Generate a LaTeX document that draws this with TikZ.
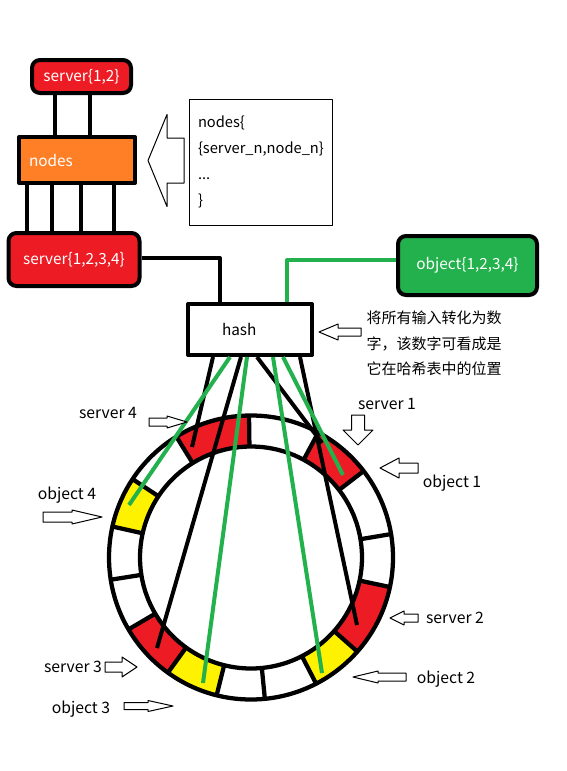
\documentclass[tikz,border=0pt]{standalone}
\usepackage{fontspec}
\setmainfont{Noto Sans CJK SC}
\usetikzlibrary{calc}
\definecolor{pred}{HTML}{ED1C24}
\definecolor{porange}{HTML}{FF7F27}
\definecolor{pgreen}{HTML}{22B14C}
\definecolor{pyellow}{HTML}{FFF200}
\newcommand\blockarrow[7]{% tip x, tip y, rotation, length, head length, shaft half, head half
  \draw[harrowline, shift={(#1,#2)}, rotate=#3] (0,0) -- (-#5,#7) -- (-#5,#6) -- (-#4,#6) -- (-#4,-#6) -- (-#5,-#6) -- (-#5,-#7) -- cycle;}
\newcommand\ringseg[3]{% colour, from angle, to angle
  \fill[#1] plot[domain=#2:#3, samples=40] (\x:142) -- plot[domain=#3:#2, samples=40] (\x:111) -- cycle;}
\begin{document}
\begin{tikzpicture}[x=0.75pt, y=-0.75pt, line join=round,
  box/.style={draw=black, line width=3pt, inner sep=0pt, font=\fontsize{11.5pt}{13pt}\selectfont},
  rbox/.style={box, rounded corners=6pt, text=white},
  wire/.style={line width=3pt, draw=black},
  gwire/.style={line width=3pt, draw=pgreen},
  ringline/.style={line width=3.2pt, draw=black},
  harrowline/.style={draw=black, line width=0.75pt, fill=white},
  lbl/.style={inner sep=0pt, font=\fontsize{11.8pt}{13pt}\selectfont}]
\useasboundingbox (0,0) rectangle (567,771);
\fill[white] (0,0) rectangle (567,771);

% ---- ring ----
\begin{scope}[shift={(251,557.5)}]
  \ringseg{pred}{-121.7}{-90.8}
  \ringseg{pred}{-61.7}{-37.5}
  \ringseg{pred}{12}{41.5}
  \ringseg{pred}{125.8}{149.6}
  \ringseg{pyellow}{-167.4}{-146.5}
  \ringseg{pyellow}{41.5}{62.7}
  \ringseg{pyellow}{104}{125.8}
  \draw[ringline] (0,0) circle[radius=106.5pt];
  \draw[ringline] (0,0) circle[radius=83.25pt];
  \foreach \a in {-90.8,-61.7,-37.5,-9.5,12,41.5,62.7,84.4,104,125.8,149.6,171,-167.4,-146.5,-121.7}
    \draw[ringline] (\a:110) -- (\a:143);
\end{scope}

% ---- boxes ----
\node[rbox, fill=pred, minimum width=74.25pt, minimum height=24.75pt] (s12) at (81.5,76.5) {server\{1,2\}};
\node[box, fill=porange, text=white, minimum width=87pt, minimum height=34.5pt, text width=72pt, inner xsep=7.5pt, align=left] (nodes) at (77,160) {nodes};
\node[rbox, fill=pred, minimum width=98.25pt, minimum height=39.75pt] (s1234) at (74,259.5) {server\{1,2,3,4\}};
\node[rbox, fill=pgreen, minimum width=104.25pt, minimum height=44.25pt] (obj) at (467.5,265.5) {object\{1,2,3,4\}};
\node[box, fill=white, minimum width=93pt, minimum height=38.25pt, text width=42pt, inner xsep=25.5pt, align=left] (hash) at (250,329.5) {hash};
\node[draw=black, line width=0.75pt, inner ysep=0pt, minimum width=107.25pt, minimum height=94.5pt, text width=93.75pt, inner xsep=6.75pt, align=left, font=\fontsize{11pt}{19.3pt}\selectfont] (map) at (260.5,162) {nodes\{\\\{server\_n,node\_n\}\\...\\\}};
\node[inner sep=0pt, align=left, font=\fontsize{11.25pt}{19.1pt}\selectfont] (note) at (434,343.5) {将所有输入转化为数\\字，该数字可看成是\\它在哈希表中的位置};

% ---- top connectors ----
\foreach \xx in {55,90}
  \draw[wire] (s12.south -| \xx,0) -- (nodes.north -| \xx,0);
\foreach \xx in {27,52,81,114}
  \draw[wire] (nodes.south -| \xx,0) -- (s1234.north -| \xx,0);
\draw[wire] (s1234.east |- 0,258) -| (hash.north -| 220,0);
\draw[gwire] (hash.north -| 287,0) |- (obj.west |- 0,260);

% ---- hash to ring ----
\coordinate (s4end) at (192,447);
\coordinate (o4end) at (129,505);
\coordinate (s3end) at (157,648);
\coordinate (o3end) at (203,683);
\coordinate (s1end) at (322,443);
\coordinate (o2end) at (322,673);
\coordinate (o1end) at (343,475);
\coordinate (s2end) at (357,625);
\draw[wire] (hash.south -| 213,0) -- (s4end);
\draw[wire] (hash.south -| 241,0) -- (s3end);
\draw[wire] (hash.south -| 257,0) -- (s1end);
\draw[wire] (hash.south -| 300,0) -- (s2end);
\draw[gwire] (hash.south -| 230,0) -- (o4end);
\draw[gwire] (hash.south -| 247,0) -- (o3end);
\draw[gwire] (hash.south -| 273,0) -- (o2end);
\draw[gwire] (hash.south -| 283,0) -- (o1end);

% ---- hollow arrows ----
\blockarrow{148}{160.5}{180}{36}{19}{22.5}{46}
\blockarrow{319}{332}{180}{42}{19}{4}{8}
\blockarrow{187}{422}{0}{38}{20}{4}{6}
\blockarrow{102}{517}{0}{59}{30}{5}{7}
\blockarrow{358}{445}{-90}{30}{15}{6.5}{15}
\blockarrow{380}{468}{180}{38}{19}{5}{10}
\blockarrow{390}{618}{180}{28}{14}{4}{7}
\blockarrow{353}{677}{180}{53}{25}{4}{6}
\blockarrow{137}{667}{0}{32}{15}{5}{10}
\blockarrow{173}{706}{0}{49}{25}{3.5}{5.5}

% ---- labels ----
\node[lbl] (ls4) at (108,413) {server 4};
\node[lbl] (lo4) at (67,495) {object 4};
\node[lbl] (ls1) at (387,404) {server 1};
\node[lbl] (lo1) at (452,483) {object 1};
\node[lbl] (ls2) at (455,618) {server 2};
\node[lbl] (lo2) at (446,679) {object 2};
\node[lbl] (ls3) at (73,667) {server 3};
\node[lbl] (lo3) at (81,709) {object 3};
\end{tikzpicture}
\end{document}
